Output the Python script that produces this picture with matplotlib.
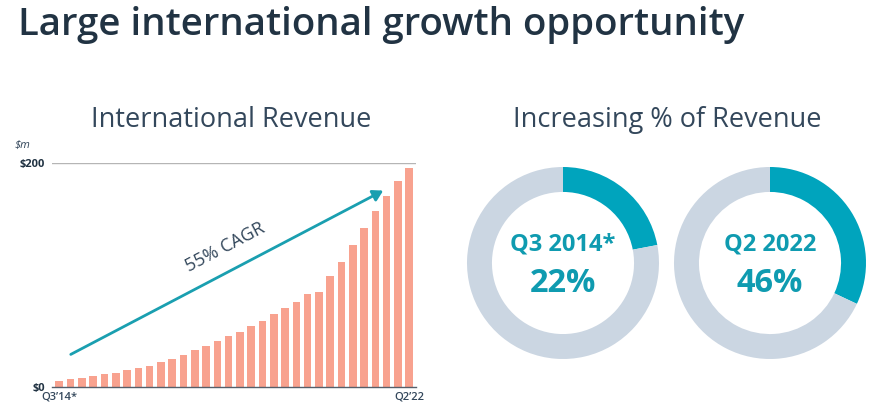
import matplotlib
matplotlib.use("Agg")
import matplotlib.pyplot as plt
from matplotlib.patches import FancyArrowPatch

# ---- data ----
quarter_labels = ["Q3\u201914*", "Q2\u201922"]
revenue_m = [5.9, 7.4, 8.3, 9.8, 11.6, 13.0, 15.2, 17.2, 19.3, 22.3, 25.0, 28.6,
             33.0, 36.9, 41.3, 45.8, 49.6, 54.5, 58.9, 65.4, 70.4, 76.4, 83.3, 85.1,
             99.6, 111.6, 127.1, 142.5, 157.4, 171.2, 183.9, 195.5]
ytick_values = [0, 200]
ytick_labels = ["$0", "$200"]
donut_titles = ["Q3 2014*", "Q2 2022"]
donut_pct_labels = ["22%", "46%"]
donut_arc_share = [22, 32]   # arc share as drawn in the reference

W, H = 893, 416
fig = plt.figure(figsize=(W / 100, H / 100), dpi=100)
fig.patch.set_facecolor("white")

DARK = "#213343"
SUB = "#33475b"
TEAL = "#00a4bd"
TEAL_TXT = "#0f9bb0"
GRAY = "#cbd6e2"
BAR = "#f8a28f"
FONT = "Open Sans"

def fx(px):
    return px / W

def fy(py):
    return 1 - py / H

# Title
fig.text(fx(18), fy(25), "Large international growth opportunity", fontsize=27.6,
         family=FONT, fontweight="semibold", color=DARK, ha="left", va="center")
fig.text(fx(231), fy(120), "International Revenue", fontsize=19.5, family=FONT,
         color=SUB, ha="center", va="center")
fig.text(fx(667), fy(120), "Increasing % of Revenue", fontsize=19.5, family=FONT,
         color=SUB, ha="center", va="center")

# ---- bar chart ----
left, right, top, bottom = 52, 416, 163.3, 387.3
ax = fig.add_axes([fx(left), fy(bottom), fx(right - left), (bottom - top) / H])
x = list(range(len(revenue_m)))
ax.bar(x, revenue_m, width=0.68, color=BAR, zorder=2)
ax.set_xlim(-0.65, 31.6)
ax.set_ylim(0, 200)
for s in ["top", "right", "left"]:
    ax.spines[s].set_visible(False)
ax.spines["bottom"].set_color("#555f6b")
ax.spines["bottom"].set_linewidth(1.0)
ax.axhline(200, color="#b5b5b5", lw=1.0, zorder=1)
ax.set_yticks(ytick_values)
ax.set_yticklabels(ytick_labels, fontsize=8, fontweight="bold", color=DARK, family=FONT)
ax.tick_params(axis="y", length=0, pad=5)
ax.set_xticks([0, len(revenue_m) - 1])
ax.set_xticklabels(quarter_labels, fontsize=8, fontweight="semibold", color=SUB, family=FONT)
ax.tick_params(axis="x", length=0, pad=3)
ax.text(-0.08, 1.08, "$m", transform=ax.transAxes, fontsize=8, style="italic",
        color=SUB, family=FONT, ha="center", va="center")

# growth arrow (decoration in axes fraction)
x0, y0 = (68.3 - left) / (right - left), (bottom - 355.7) / (bottom - top)
x1, y1 = (385.7 - left) / (right - left), (bottom - 189.3) / (bottom - top)
arr = FancyArrowPatch((x0, y0), (x1, y1), transform=ax.transAxes,
                      arrowstyle="-|>,head_length=6,head_width=3.5", color="#1a9fb0",
                      lw=2, zorder=3, clip_on=False)
ax.add_patch(arr)
ax.text(0.475, 0.625, "55% CAGR", transform=ax.transAxes, rotation=27.7,
        fontsize=13, color=SUB, family=FONT, ha="center", va="center",
        rotation_mode="anchor")

# ---- donuts ----
centers = [(563, 263), (770, 263)]
R = 96
for (cx, cy), title, pct, share in zip(centers, donut_titles, donut_pct_labels, donut_arc_share):
    dax = fig.add_axes([fx(cx - R), fy(cy + R), fx(2 * R), 2 * R / H])
    dax.pie([share, 100 - share], colors=[TEAL, GRAY], startangle=90,
            counterclock=False, radius=1.0,
            wedgeprops=dict(width=0.26, edgecolor="none"))
    dax.set_xlim(-1, 1)
    dax.set_ylim(-1, 1)
    dax.set_aspect("equal")
    dax.axis("off")
    dax.text(0, 0.19, title, fontsize=17, fontweight="bold", color=TEAL_TXT,
             family=FONT, ha="center", va="center")
    dax.text(0, -0.21, pct, fontsize=23.5, fontweight="bold", color=TEAL_TXT,
             family=FONT, ha="center", va="center")

fig.savefig("out.png", dpi=100, facecolor="white")
